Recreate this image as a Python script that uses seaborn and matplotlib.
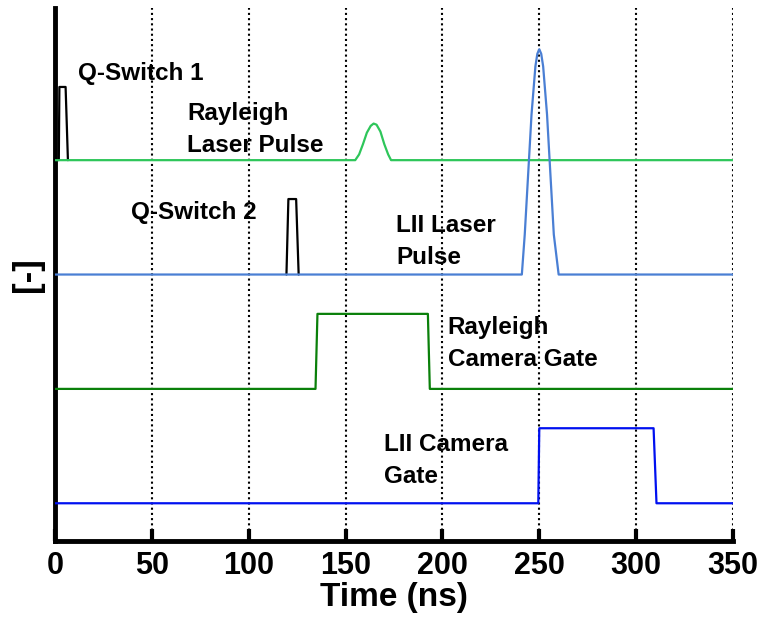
import matplotlib
matplotlib.use("Agg")
import matplotlib.pyplot as plt
import seaborn as sns
import pandas as pd

# ---- data (time in ns, relative amplitude) ----
qs1_t = [2.0, 2.3, 5.5, 6.7]
qs1_a = [0.0, 0.64, 0.64, 0.0]

qs2_t = [119.5, 120.5, 124.5, 125.8]
qs2_a = [0.0, 0.66, 0.66, 0.0]

ray_pulse_t = [0, 155, 157, 159, 161, 163, 164.5, 166, 168, 170, 172, 173.5, 350]
ray_pulse_a = [0, 0, 0.05, 0.14, 0.24, 0.30, 0.32, 0.31, 0.25, 0.14, 0.05, 0, 0]

lii_pulse_t = [0, 241, 242.5, 244, 246, 248, 249, 250, 251, 252, 254, 256, 257.5, 260, 350]
lii_pulse_a = [0, 0, 0.35, 0.8, 1.4, 1.82, 1.93, 1.97, 1.93, 1.82, 1.4, 0.8, 0.35, 0, 0]

ray_gate_t = [0, 134.5, 135.5, 192.5, 193.5, 350]
ray_gate_a = [0, 0, 0.656, 0.656, 0, 0]

lii_gate_t = [0, 249.5, 250, 309, 310.5, 350]
lii_gate_a = [0, 0, 0.656, 0.656, 0, 0]

x_ticks = [0, 50, 100, 150, 200, 250, 300, 350]

labels = ["Q-Switch 1", "Rayleigh\nLaser Pulse", "Q-Switch 2", "LII Laser\nPulse",
          "Rayleigh\nCamera Gate", "LII Camera\nGate"]

# ---- layout ----
sns.set_style("white")
plt.rcParams["font.family"] = ["Liberation Sans", "DejaVu Sans"]
plt.rcParams["text.color"] = "black"
plt.rcParams["axes.labelcolor"] = "black"
plt.rcParams["xtick.color"] = "black"

fig = plt.figure(figsize=(7.63, 6.19), dpi=100)
ax = fig.add_axes([0.072, 0.126, 0.8887, 0.861])

offsets = {"ray": 3.33, "lii": 2.33, "rgate": 1.33, "lgate": 0.33}

def trace(t, a, off, color, lw=1.6, z=2):
    df = pd.DataFrame({"t": t, "y": [v + off for v in a]})
    sns.lineplot(data=df, x="t", y="y", ax=ax, color=color, lw=lw,
                 sort=False, estimator=None, zorder=z)

trace(qs1_t, qs1_a, offsets["ray"], "black", 1.6, 2)
trace(qs2_t, qs2_a, offsets["lii"], "black", 1.6, 2)
trace(ray_pulse_t, ray_pulse_a, offsets["ray"], "#2ec65a", 1.6, 3)
trace(lii_pulse_t, lii_pulse_a, offsets["lii"], "#4a7fd4", 1.6, 3)
trace(ray_gate_t, ray_gate_a, offsets["rgate"], "#0a800a", 1.6, 3)
trace(lii_gate_t, lii_gate_a, offsets["lgate"], "#0010f0", 1.6, 3)

ax.set_xlim(0, 350)
ax.set_ylim(0, 4.66)
ax.set_xticks(x_ticks)
ax.set_xticklabels([str(v) for v in x_ticks], fontsize=22, fontweight="bold")
ax.set_yticks([])
ax.set_xlabel("Time (ns)", fontsize=24, fontweight="bold", labelpad=1)
ax.set_ylabel("[-]", fontsize=25, fontweight="bold", labelpad=8)

for v in x_ticks:
    ax.axvline(v, color="black", ls=(0, (1, 1.5)), lw=1.5, zorder=1)

for s in ["top", "right"]:
    ax.spines[s].set_visible(False)
for s in ["left", "bottom"]:
    ax.spines[s].set_linewidth(3.5)
    ax.spines[s].set_color("black")
ax.tick_params(axis="x", direction="in", length=9, width=3, pad=7, bottom=True)

txt_pos = [(11.9, 4.09), (68.3, 3.60), (39.3, 2.87), (176.3, 2.62), (202.7, 1.73), (169.6, 0.70)]
for s, (x, y) in zip(labels, txt_pos):
    ax.text(x, y, s, fontsize=17.5, fontweight="bold", ha="left", va="center",
            linespacing=1.5, zorder=4)

fig.savefig("out.png", dpi=100)
